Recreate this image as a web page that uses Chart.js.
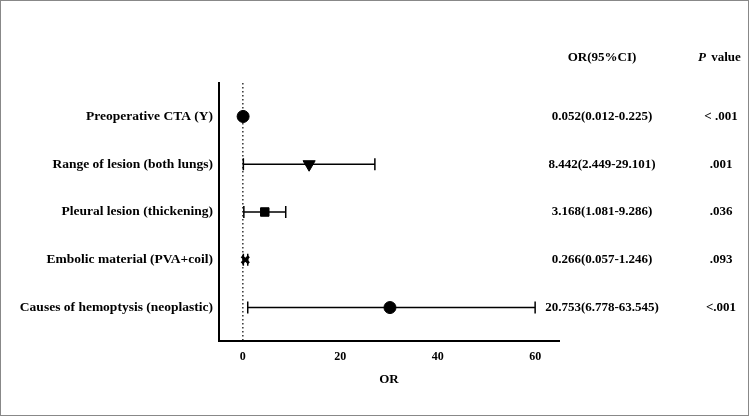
<!DOCTYPE html>
<html><head><meta charset="utf-8">
<script src="https://cdn.jsdelivr.net/npm/chart.js@4"></script>
<style>html,body{margin:0;padding:0;background:#fff}#w{width:747px;height:414px;border:1px solid #888;position:relative}</style>
</head><body><div id="w"><canvas id="c"></canvas></div>
<script>
const categories=["Preoperative CTA (Y)","Range of lesion (both lungs)","Pleural lesion (thickening)","Embolic material (PVA+coil)","Causes of hemoptysis (neoplastic)"];
const orValues=[0.052,13.6,4.5,0.5,30.2];
const ciLow=[0,0.1,0.2,0.1,1.0];
const ciHigh=[0.2,27.1,8.8,1.0,60];
const orText=["0.052(0.012-0.225)","8.442(2.449-29.101)","3.168(1.081-9.286)","0.266(0.057-1.246)","20.753(6.778-63.545)"];
const pText=["< .001",".001",".036",".093","<.001"];
const styles=["circle","triangle","rect","crossRot","circle"];
const rots=[0,180,0,0,0];
const F="'Liberation Serif','Times New Roman',serif";
const extras={id:'extras',
 beforeDatasetsDraw(ch){const c=ch.ctx,x=ch.scales.x,y=ch.scales.y,a=ch.chartArea;
  c.save();c.strokeStyle='#000';c.lineWidth=1.2;c.setLineDash([1.5,2.5]);
  c.beginPath();c.moveTo(x.getPixelForValue(0),a.top);c.lineTo(x.getPixelForValue(0),a.bottom);c.stroke();c.setLineDash([]);
  c.lineWidth=1.5;
  categories.forEach((_,i)=>{const py=y.getPixelForValue(i+1),l=x.getPixelForValue(ciLow[i]),h=x.getPixelForValue(ciHigh[i]);
   c.beginPath();c.moveTo(l,py);c.lineTo(h,py);c.moveTo(l,py-6);c.lineTo(l,py+6);c.moveTo(h,py-6);c.lineTo(h,py+6);c.stroke();});
  c.restore();},
 afterDraw(ch){const c=ch.ctx,y=ch.scales.y;c.save();c.fillStyle='#000';c.textAlign='center';c.textBaseline='middle';
  c.font="bold 13px "+F;c.fillText("OR(95%CI)",601,57);
  c.font="bold italic 13px "+F;c.fillText("P",701,57);c.font="bold 13px "+F;c.fillText("value",725,57);
  categories.forEach((_,i)=>{const py=y.getPixelForValue(i+1);c.fillText(orText[i],601,py);c.fillText(pText[i],720,py);});
  c.restore();}};
new Chart(document.getElementById('c'),{type:'scatter',
 data:{datasets:[{data:orValues.map((v,i)=>({x:v,y:i+1})),pointStyle:styles,rotation:rots,pointRadius:[6,7,6,5,6],
  backgroundColor:'#000',borderColor:'#000',borderWidth:[1,1,1,3,1]}]},
 options:{responsive:true,maintainAspectRatio:false,animation:false,
  layout:{padding:{top:82,right:189,bottom:24,left:0}},
  plugins:{legend:{display:false},tooltip:{enabled:false}},
  scales:{
   x:{min:-4.9,max:64.9,afterBuildTicks(s){s.ticks=[0,20,40,60].map(v=>({value:v}));},
    grid:{display:false,drawTicks:true,tickLength:6,tickColor:'#000'},border:{color:'#000',width:2},
    ticks:{color:'#000',font:{family:F,weight:'bold',size:12}},
    title:{display:true,text:'OR',color:'#000',font:{family:F,weight:'bold',size:13},padding:{top:0}},
    afterFit(s){s.height=50;}},
   y:{min:0.3,max:5.7,reverse:true,afterBuildTicks(s){s.ticks=[1,2,3,4,5].map(v=>({value:v}));},
    grid:{display:false,drawTicks:true,tickLength:5,tickColor:'#000'},border:{color:'#000',width:2},
    ticks:{color:'#000',padding:1,font:{family:F,weight:'bold',size:13.5},callback:v=>categories[v-1]},
    afterFit(s){s.width=218;}}}},
 plugins:[extras]});
</script></body></html>
